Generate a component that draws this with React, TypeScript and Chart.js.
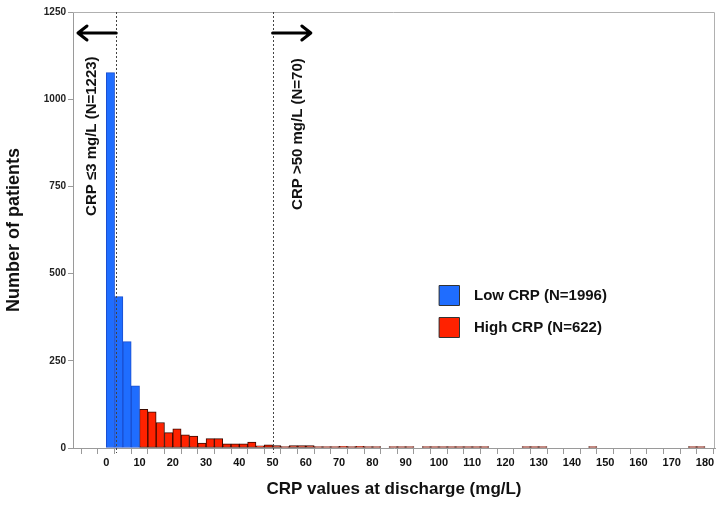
import React, { useEffect, useRef } from "react";
import { Chart, registerables } from "chart.js";

Chart.register(...registerables);

const binWidth = 2.5;
const lowStart = 0;
const highStart = 10;
const lowCounts = [1076, 434, 305, 178];
const highCounts = [
  111, 104, 73, 44, 55, 38, 34, 14, 27, 27, 12, 12, 12, 17, 6, 9,
  7, 4, 7, 7, 7, 4, 3, 3, 5, 3, 5, 1, 1, 0, 3, 3, 1, 0, 2, 1,
  1, 1, 2, 1, 1, 1, 0, 0, 0, 0, 3, 1, 1, 0, 0, 0, 0, 0, 1, 0,
  0, 0, 0, 0, 0, 0, 0, 0, 0, 0, 1, 1,
];
const lowLabel = "Low CRP (N=1996)";
const highLabel = "High CRP (N=622)";
const lowCutoff = 3;
const highCutoff = 50;
const lowNote = "CRP \u22643 mg/L (N=1223)";
const highNote = "CRP >50 mg/L (N=70)";
const yTicks = [0, 250, 500, 750, 1000, 1250];
const xTickMin = -10;
const xTickMax = 180;
const xTickStep = 5;

const FONT = "'Liberation Sans', Arial, sans-serif";
const BLUE = "#1f6dff";
const RED = "#ff2200";

function toPoints(start: number, counts: number[]) {
  return counts.map((c, i) => ({
    x: start + i * binWidth + binWidth / 2,
    y: c === 0 ? null : c,
  }));
}

const overlayPlugin = {
  id: "overlay",
  afterDatasetsDraw(chart: any) {
    const { ctx, chartArea, scales } = chart;
    const xs = scales.x;
    const ys = scales.y;
    ctx.save();
    // frame top/right
    ctx.strokeStyle = "#b0b0b0";
    ctx.lineWidth = 1;
    ctx.beginPath();
    ctx.moveTo(chartArea.left, chartArea.top + 0.5);
    ctx.lineTo(chartArea.right - 0.5, chartArea.top + 0.5);
    ctx.lineTo(chartArea.right - 0.5, chartArea.bottom);
    ctx.stroke();

    // dotted cutoff lines
    ctx.strokeStyle = "#444";
    ctx.setLineDash([2, 2]);
    [lowCutoff, highCutoff].forEach((v) => {
      const px = Math.round(xs.getPixelForValue(v)) + 0.5;
      ctx.beginPath();
      ctx.moveTo(px, chartArea.top);
      ctx.lineTo(px, chartArea.bottom + 5);
      ctx.stroke();
    });
    ctx.setLineDash([]);

    // arrows
    const ay = chartArea.top + 21;
    const drawArrow = (x0: number, x1: number) => {
      const dir = x1 > x0 ? 1 : -1;
      ctx.strokeStyle = "#000";
      ctx.lineWidth = 3;
      ctx.lineCap = "round";
      ctx.lineJoin = "round";
      ctx.beginPath();
      ctx.moveTo(x0, ay);
      ctx.lineTo(x1, ay);
      ctx.moveTo(x1 - dir * 9, ay - 7);
      ctx.lineTo(x1, ay);
      ctx.lineTo(x1 - dir * 9, ay + 7);
      ctx.stroke();
    };
    drawArrow(xs.getPixelForValue(lowCutoff), xs.getPixelForValue(-8.5));
    drawArrow(xs.getPixelForValue(highCutoff), xs.getPixelForValue(61.5));

    // rotated notes
    ctx.fillStyle = "#111";
    ctx.font = `bold 15px ${FONT}`;
    ctx.textAlign = "center";
    ctx.textBaseline = "middle";
    const drawNote = (text: string, xv: number, yv: number) => {
      ctx.save();
      ctx.translate(xs.getPixelForValue(xv), ys.getPixelForValue(yv));
      ctx.rotate(-Math.PI / 2);
      ctx.fillText(text, 0, 0);
      ctx.restore();
    };
    drawNote(lowNote, -4.4, 894);
    drawNote(highNote, 57.6, 900);

    // legend
    const items = chart.data.datasets.map((d: any) => ({
      label: d.label,
      fill: d.backgroundColor,
    }));
    const lx = 439;
    let ly = 285;
    ctx.font = `bold 15px ${FONT}`;
    ctx.textAlign = "left";
    items.forEach((it: any) => {
      ctx.fillStyle = it.fill;
      ctx.fillRect(lx, ly, 20, 20);
      ctx.strokeStyle = "#333";
      ctx.lineWidth = 1;
      ctx.strokeRect(lx + 0.5, ly + 0.5, 20, 20);
      ctx.fillStyle = "#111";
      ctx.fillText(it.label, lx + 35, ly + 11);
      ly += 32;
    });
    ctx.restore();
  },
};

export default function App() {
  const ref = useRef<HTMLCanvasElement | null>(null);

  useEffect(() => {
    document.body.style.margin = "0";
    const canvas = ref.current;
    if (!canvas) return;
    const chart = new Chart(canvas, {
      type: "bar",
      data: {
        datasets: [
          {
            label: lowLabel,
            data: toPoints(lowStart, lowCounts) as any,
            backgroundColor: BLUE,
            borderColor: "#1a4fd0",
            borderWidth: 1,
            borderSkipped: false,
            grouped: false,
            barPercentage: 1,
            categoryPercentage: 1,
          } as any,
          {
            label: highLabel,
            data: toPoints(highStart, highCounts) as any,
            backgroundColor: RED,
            borderColor: "#3a0a00",
            borderWidth: 1,
            borderSkipped: false,
            grouped: false,
            barPercentage: 1,
            categoryPercentage: 1,
            minBarLength: 1.5,
          } as any,
        ],
      },
      options: {
        responsive: false,
        maintainAspectRatio: false,
        animation: false,
        layout: { padding: { top: 12, right: 5, left: 0, bottom: 0 } },
        plugins: {
          legend: { display: false },
          tooltip: { enabled: false },
        },
        scales: {
          x: {
            type: "linear",
            min: -10,
            max: 183,
            offset: false,
            afterFit: (s: any) => {
              s.height = 57;
            },
            afterBuildTicks: (s: any) => {
              const t: any[] = [];
              for (let v = xTickMin; v <= xTickMax; v += xTickStep) t.push({ value: v });
              s.ticks = t;
            },
            ticks: {
              autoSkip: false,
              maxRotation: 0,
              padding: 2,
              color: "#111",
              font: { family: FONT, size: 11, weight: "bold" },
              callback: (v: any) => (v >= 0 && v % 10 === 0 ? String(v) : ""),
            },
            grid: {
              drawOnChartArea: false,
              drawTicks: true,
              tickLength: 6,
              color: "#9a9a9a",
            },
            border: { color: "#9a9a9a" },
            title: {
              display: true,
              text: "CRP values at discharge (mg/L)",
              color: "#111",
              font: { family: FONT, size: 17, weight: "bold" },
              padding: { top: 0, bottom: 5 },
            },
          },
          y: {
            type: "linear",
            min: 0,
            max: 1250,
            afterFit: (s: any) => {
              s.width = 73;
            },
            afterBuildTicks: (s: any) => {
              s.ticks = yTicks.map((v) => ({ value: v }));
            },
            ticks: {
              padding: 2,
              color: "#222",
              font: { family: FONT, size: 10, weight: "bold" },
              callback: (v: any) => String(v),
            },
            grid: {
              drawOnChartArea: false,
              drawTicks: true,
              tickLength: 5,
              color: "#9a9a9a",
            },
            border: { color: "#9a9a9a" },
            title: {
              display: true,
              text: "Number of patients",
              color: "#111",
              font: { family: FONT, size: 18, weight: "bold" },
              padding: { top: 3, bottom: 0 },
            },
          },
        },
      },
      plugins: [overlayPlugin],
    });
    return () => chart.destroy();
  }, []);

  return (
    <div style={{ width: 720, height: 505, background: "#fff" }}>
      <canvas ref={ref} width={720} height={505} style={{ display: "block" }} />
    </div>
  );
}
